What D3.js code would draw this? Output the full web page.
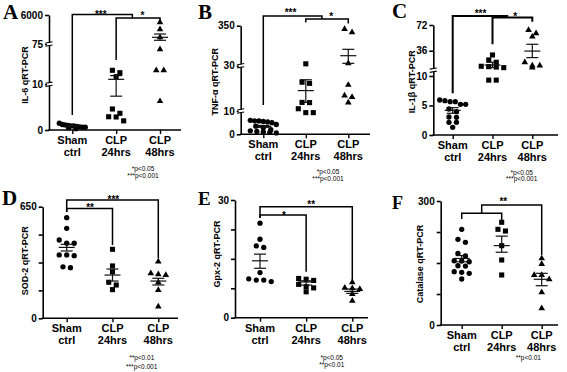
<!DOCTYPE html>
<html><head><meta charset="utf-8">
<script src="https://cdn.jsdelivr.net/npm/d3@7"></script>
<style>body{margin:0;background:#fff}svg{display:block}</style>
</head><body>
<svg id="chart" width="567" height="372"></svg>
<script>
// ---------- shared categories ----------
const groups = ["Sham ctrl", "CLP 24hrs", "CLP 48hrs"];
const groupTop = ["Sham", "CLP", "CLP"];
const groupBottom = ["ctrl", "24hrs", "48hrs"];

// ---------- A: IL-6 ----------
const il6Domain = [0, 10, 75, 6000];
const il6Ticks = [0, 10, 75, 6000];
const il6TickLabels = ["0", "10", "75", "6000"];
const il6Breaks = [10, 75];
const il6Sham = [0.3, 0.5, 0.6, 0.7, 0.8, 0.9, 1.0, 1.1, 1.2, 1.5, 0.6, 0.9];
const il6Clp24 = [32.6, 28.7, 22.3, 4.6, 3.65, 2.9, 2.85, 2.0];
const il6Clp48 = [4500, 3080, 1440, 66.5, 32.6, 32.6, 6.3];
const il6Mean = [0.85, 18, 1440];
const il6Lo = [0.7, 7.4, 830];
const il6Hi = [1.0, 24, 2120];
const il6Notes = ["*p<0.05", "***p<0.001"];

// ---------- B: TNF-alpha ----------
const tnfDomain = [0, 10, 30, 350];
const tnfTicks = [0, 10, 30, 350];
const tnfTickLabels = ["0", "10", "30", "350"];
const tnfBreaks = [10, 30];
const tnfSham = [6.0, 5.8, 5.7, 5.5, 5.3, 5.0, 4.2, 3.5, 2.8, 2.0, 1.5, 1.2, 1.0, 0.8, 0.6];
const tnfClp24 = [45, 22.7, 22.2, 13.8, 13.7, 11, 9.3, 9.3];
const tnfClp48 = [323, 297, 49, 21.5, 16.8, 16.1, 13.7];
const tnfMean = [3.4, 19, 110];
const tnfLo = [3.0, 13.8, 49];
const tnfHi = [3.8, 23.8, 161];
const tnfNotes = ["*p<0.05", "***p<0.001"];

// ---------- C: IL-1beta ----------
const il1Domain = [0, 10, 36, 72];
const il1Ticks = [0, 5, 10, 36, 72];
const il1TickLabels = ["0", "5", "10", "36", "72"];
const il1Breaks = [16];
const il1Sham = [5.93, 5.64, 5.64, 5.81, 5.2, 5.2, 4.41, 3.95, 3.05, 3.0, 2.15, 2.15, 1.3];
const il1Clp24 = [31.6, 26.5, 24.1, 20, 19.6, 19.2, 18.6, 9.3, 9.3];
const il1Clp48 = [65, 60.4, 55.6, 24.1, 20.6, 20.6, 18.6];
const il1Mean = [4.18, 21.3, 35.6];
const il1Lo = [3.68, 18.6, 28.9];
const il1Hi = [4.63, 24.1, 45];
const il1Notes = ["*p<0.05", "***p<0.001"];

// ---------- D: SOD-2 ----------
const sodDomain = [0, 650];
const sodTicks = [0, 162.5, 325, 487.5, 650];
const sodTickLabels = ["0", "", "", "", "650"];
const sodSham = [586, 524, 456, 437, 437, 369, 365, 369, 295, 300];
const sodClp24 = [402, 305, 271, 210, 194, 167];
const sodClp48 = [330, 262, 252, 256, 210, 165, 68];
const sodMean = [413, 252, 217];
const sodLo = [392, 217, 194];
const sodHi = [431, 287, 233];
const sodNotes = ["**p<0.01", "***p<0.001"];

// ---------- E: Gpx-2 ----------
const gpxDomain = [0, 30];
const gpxTicks = [0, 7.5, 15, 22.5, 30];
const gpxTickLabels = ["0", "", "", "", "30"];
const gpxSham = [24.1, 20.0, 17.9, 18.3, 11.5, 9.6, 9.2, 9.6, 9.9];
const gpxClp24 = [10.0, 9.8, 9.5, 8.5, 7.9, 7.6, 6.6];
const gpxClp48 = [9.0, 7.6, 7.5, 7.3, 6.0, 4.3];
const gpxMean = [14.5, 9.1, 6.7];
const gpxLo = [12.6, 8.3, 6.2];
const gpxHi = [16.2, 9.4, 7.3];
const gpxNotes = ["*p<0.05", "**p<0.01"];

// ---------- F: Catalase ----------
const catDomain = [0, 300];
const catTicks = [0, 75, 150, 225, 300];
const catTickLabels = ["0", "", "", "", "300"];
const catSham = [231.5, 200, 207.4, 167, 173.5, 153, 154.8, 143.3, 142.6, 155.4, 127.5, 125, 129, 111.3];
const catClp24 = [248.5, 231.5, 227.4, 191.9, 157.3, 121];
const catClp48 = [161, 147.6, 121, 121, 110.6, 79, 40.4];
const catMean = [161, 192, 110.6];
const catLo = [153, 176, 95];
const catHi = [168, 215, 125];
const catNotes = ["**p<0.01"];

// ---------- panels (data + layout) ----------
const panels = [
  {letter:"A", title:"IL-6 qRT-PCR", domain:il6Domain, ticks:il6Ticks, tickLabels:il6TickLabels, breaks:il6Breaks,
   series:[il6Sham, il6Clp24, il6Clp48], mean:il6Mean, lo:il6Lo, hi:il6Hi, notes:il6Notes,
   L:{axisX:49, yRange:[130,84.3,44,15], x0:72.3, x2:160, xEnd:181, titleX:25, titleY:75, letterX:3, letterY:19, letterSize:21, noteX:143, noteY:[170.5,178], bw:1.5},
   brackets:[{from:0,to:1.37,top:14.5,l:115,r:18.5,label:"***",lt:0.65,ly:12},
             {from:1,to:2,top:18,l:60,r:22,label:"*",lt:1.6,ly:13.5}]},
  {letter:"B", title:"TNF-\u03b1 qRT-PCR", domain:tnfDomain, ticks:tnfTicks, tickLabels:tnfTickLabels, breaks:tnfBreaks,
   series:[tnfSham, tnfClp24, tnfClp48], mean:tnfMean, lo:tnfLo, hi:tnfHi, notes:tnfNotes,
   L:{axisX:240.7, yRange:[134.3,111,65.7,25.7], x0:263.3, x2:348.3, xEnd:370, titleX:215, titleY:81.7, letterX:198, letterY:19, letterSize:21, noteX:328, noteY:[174,180.5], bw:1.5},
   brackets:[{from:0,to:1.38,top:16,l:105,r:18.8,label:"***",lt:0.64,ly:10.5},
             {from:1,to:2,top:19,l:22.5,r:23.5,label:"*",lt:1.6,ly:14}]},
  {letter:"C", title:"IL-1\u03b2 qRT-PCR", domain:il1Domain, ticks:il1Ticks, tickLabels:il1TickLabels, breaks:il1Breaks,
   series:[il1Sham, il1Clp24, il1Clp48], mean:il1Mean, lo:il1Lo, hi:il1Hi, notes:il1Notes,
   L:{axisX:433.3, yRange:[135,76,50.7,25], x0:452.7, x2:532.3, xEnd:558, titleX:411.7, titleY:81.7, letterX:392, letterY:18, letterSize:21, noteX:521.7, noteY:[174.6,181.3], bw:2},
   brackets:[{from:0,to:1.37,top:16,l:93.3,r:18,label:"***",lt:0.7,ly:11},
             {from:1,to:2,top:17.5,l:44.3,r:21.7,label:"*",lt:1.57,ly:14}]},
  {letter:"D", title:"SOD-2 qRT-PCR", domain:sodDomain, ticks:sodTicks, tickLabels:sodTickLabels, breaks:[],
   series:[sodSham, sodClp24, sodClp48], mean:sodMean, lo:sodLo, hi:sodHi, notes:sodNotes,
   L:{axisX:42.7, yRange:[318.3,206.7], x0:66.7, x2:158.3, xEnd:178, titleX:25, titleY:260.7, letterX:2, letterY:205, letterSize:21, noteX:141.7, noteY:[360,369], bw:1.5},
   brackets:[{from:0,to:2,top:200,l:212,r:258.3,label:"***",lt:1.02,ly:197.5},
             {from:0,to:1,top:208.5,l:212,r:245,label:"**",lt:0.51,ly:205.7}]},
  {letter:"E", title:"Gpx-2 qRT-PCR", domain:gpxDomain, ticks:gpxTicks, tickLabels:gpxTickLabels, breaks:[],
   series:[gpxSham, gpxClp24, gpxClp48], mean:gpxMean, lo:gpxLo, hi:gpxHi, notes:gpxNotes,
   L:{axisX:235, yRange:[317.7,200], x0:260, x2:352.3, xEnd:368, titleX:216.7, titleY:254, letterX:198, letterY:204.5, letterSize:19, noteX:331.7, noteY:[359.6,367.3], bw:1.5},
   brackets:[{from:0,to:2,top:206.7,l:218,r:280,label:"**",lt:1.11,ly:202},
             {from:0,to:1,top:215,l:218,r:271.7,label:"*",lt:0.52,ly:213}]},
  {letter:"F", title:"Catalase qRT-PCR", domain:catDomain, ticks:catTicks, tickLabels:catTickLabels, breaks:[],
   series:[catSham, catClp24, catClp48], mean:catMean, lo:catLo, hi:catHi, notes:catNotes,
   L:{axisX:440.7, yRange:[325,201], x0:461.7, x2:541.7, xEnd:558, titleX:420, titleY:264, letterX:392, letterY:208.5, letterSize:18, noteX:528.3, noteY:[360], bw:1.5},
   brackets:[{from:0,to:1,top:213.3,l:219,r:220,label:"",lt:0.5,ly:0},
             {from:0.5,to:2,top:205,l:213.3,r:255,label:"**",lt:1.04,ly:199.5}]}
];

const SANS = "'Liberation Sans', Arial, Helvetica, sans-serif";
const SERIF = "'Liberation Serif', 'Times New Roman', serif";
const svg = d3.select("#chart");
svg.append("rect").attr("width",567).attr("height",372).attr("fill","#fff");

const symbols = [d3.symbolCircle, d3.symbolSquare, d3.symbolTriangle];
const symSizes = [22, 26, 19];

function dodge(vals, y, step, rowGap, maxW) {
  const pts = vals.map(v => ({v, py: y(v)})).sort((a, b) => a.py - b.py);
  const rows = [];
  let cur = null;
  pts.forEach(p => {
    if (!cur || p.py - cur[0].py > rowGap) { cur = [p]; rows.push(cur); }
    else cur.push(p);
  });
  rows.forEach(r => {
    const n = r.length;
    const s = n > 1 ? Math.min(step, maxW / (n - 1)) : 0;
    r.forEach((p, i) => p.dx = (i - (n - 1) / 2) * s);
  });
  return pts;
}

panels.forEach(p => {
  const L = p.L;
  const g = svg.append("g");
  const y = d3.scaleLinear().domain(p.domain).range(L.yRange);
  const x = d3.scalePoint().domain(groups).range([L.x0, L.x2]);
  const gx = t => {
    const i = Math.min(Math.floor(t), groups.length - 2);
    return x(groups[i]) + (t - i) * (x(groups[i + 1]) - x(groups[i]));
  };
  const yBottom = L.yRange[0];

  // y axis
  const ya = g.append("g").attr("transform", `translate(${L.axisX},0)`)
    .call(d3.axisLeft(y).tickValues(p.ticks).tickFormat((d, i) => p.tickLabels[i]).tickSize(4).tickSizeOuter(0).tickPadding(2));
  ya.attr("font-family", SANS).attr("font-size", 10).attr("font-weight", "bold");
  ya.selectAll("path, line").attr("stroke", "#000").attr("stroke-width", 1.6);
  ya.selectAll("text").attr("fill", "#000");

  // axis breaks
  p.breaks.forEach(b => {
    const yy = y(b);
    g.append("rect").attr("x", L.axisX - 2).attr("y", yy - 1.3).attr("width", 4).attr("height", 2.6).attr("fill", "#fff");
    [-1.6, 1.6].forEach(o => g.append("line")
      .attr("x1", L.axisX - 3.5).attr("x2", L.axisX + 3.5)
      .attr("y1", yy + o + 0.6).attr("y2", yy + o - 0.6)
      .attr("stroke", "#000").attr("stroke-width", 1.1));
  });

  // x axis
  const xa = g.append("g").attr("transform", `translate(0,${yBottom})`)
    .call(d3.axisBottom(x).tickSize(4).tickFormat(""));
  xa.select(".domain").remove();
  xa.selectAll("line").attr("stroke", "#000").attr("stroke-width", 1.4);
  g.append("line").attr("x1", L.axisX - 0.8).attr("x2", L.xEnd).attr("y1", yBottom).attr("y2", yBottom)
    .attr("stroke", "#000").attr("stroke-width", 1.6);

  // category labels
  groups.forEach((c, i) => {
    const t = g.append("text").attr("x", x(c)).attr("text-anchor", "middle")
      .attr("font-family", SANS).attr("font-size", 11).attr("font-weight", "bold").attr("fill", "#000");
    t.append("tspan").attr("x", x(c)).attr("y", yBottom + 14).text(groupTop[i]);
    t.append("tspan").attr("x", x(c)).attr("y", yBottom + 26).text(groupBottom[i]);
  });

  // y title
  g.append("text").attr("transform", `translate(${L.titleX},${L.titleY}) rotate(-90)`)
    .attr("text-anchor", "middle").attr("dy", "0.35em")
    .attr("font-family", SANS).attr("font-size", 9).attr("font-weight", "bold").attr("fill", "#000")
    .text(p.title);

  // panel letter
  g.append("text").attr("x", L.letterX).attr("y", L.letterY)
    .attr("font-family", SERIF).attr("font-size", L.letterSize).attr("font-weight", "bold").attr("fill", "#000")
    .text(p.letter);

  // points
  p.series.forEach((vals, i) => {
    const pts = dodge(vals, y, 7.5, 4.5, 26);
    g.selectAll(null).data(pts).enter().append("path")
      .attr("d", d3.symbol().type(symbols[i]).size(symSizes[i]))
      .attr("transform", d => `translate(${x(groups[i]) + d.dx},${d.py})`)
      .attr("fill", "#000");
  });

  // mean +/- SEM
  groups.forEach((c, i) => {
    const cx = x(c);
    const eb = g.append("g").attr("stroke", "#111").attr("stroke-width", 1.2).attr("fill", "none");
    eb.append("line").attr("x1", cx).attr("x2", cx).attr("y1", y(p.hi[i])).attr("y2", y(p.lo[i]));
    eb.append("line").attr("x1", cx - 8).attr("x2", cx + 8).attr("y1", y(p.mean[i])).attr("y2", y(p.mean[i]));
    [p.hi[i], p.lo[i]].forEach(v => eb.append("line").attr("x1", cx - 6).attr("x2", cx + 6).attr("y1", y(v)).attr("y2", y(v)));
  });

  // significance brackets
  p.brackets.forEach(b => {
    const x1 = gx(b.from), x2 = gx(b.to);
    g.append("path").attr("d", `M${x1},${b.l}V${b.top}H${x2}V${b.r}`)
      .attr("fill", "none").attr("stroke", "#000").attr("stroke-width", L.bw);
    if (b.label) {
      g.append("text").attr("x", gx(b.lt)).attr("y", b.ly + 5.6).attr("text-anchor", "middle")
        .attr("font-family", SANS).attr("font-size", 10).attr("font-weight", "bold").attr("fill", "#000")
        .text(b.label);
    }
  });

  // p-value notes
  p.notes.forEach((n, i) => {
    g.append("text").attr("x", L.noteX).attr("y", L.noteY[i]).attr("text-anchor", "middle")
      .attr("font-family", SANS).attr("font-size", 6.5).attr("fill", "#000")
      .text(n);
  });
});
</script>
</body></html>
